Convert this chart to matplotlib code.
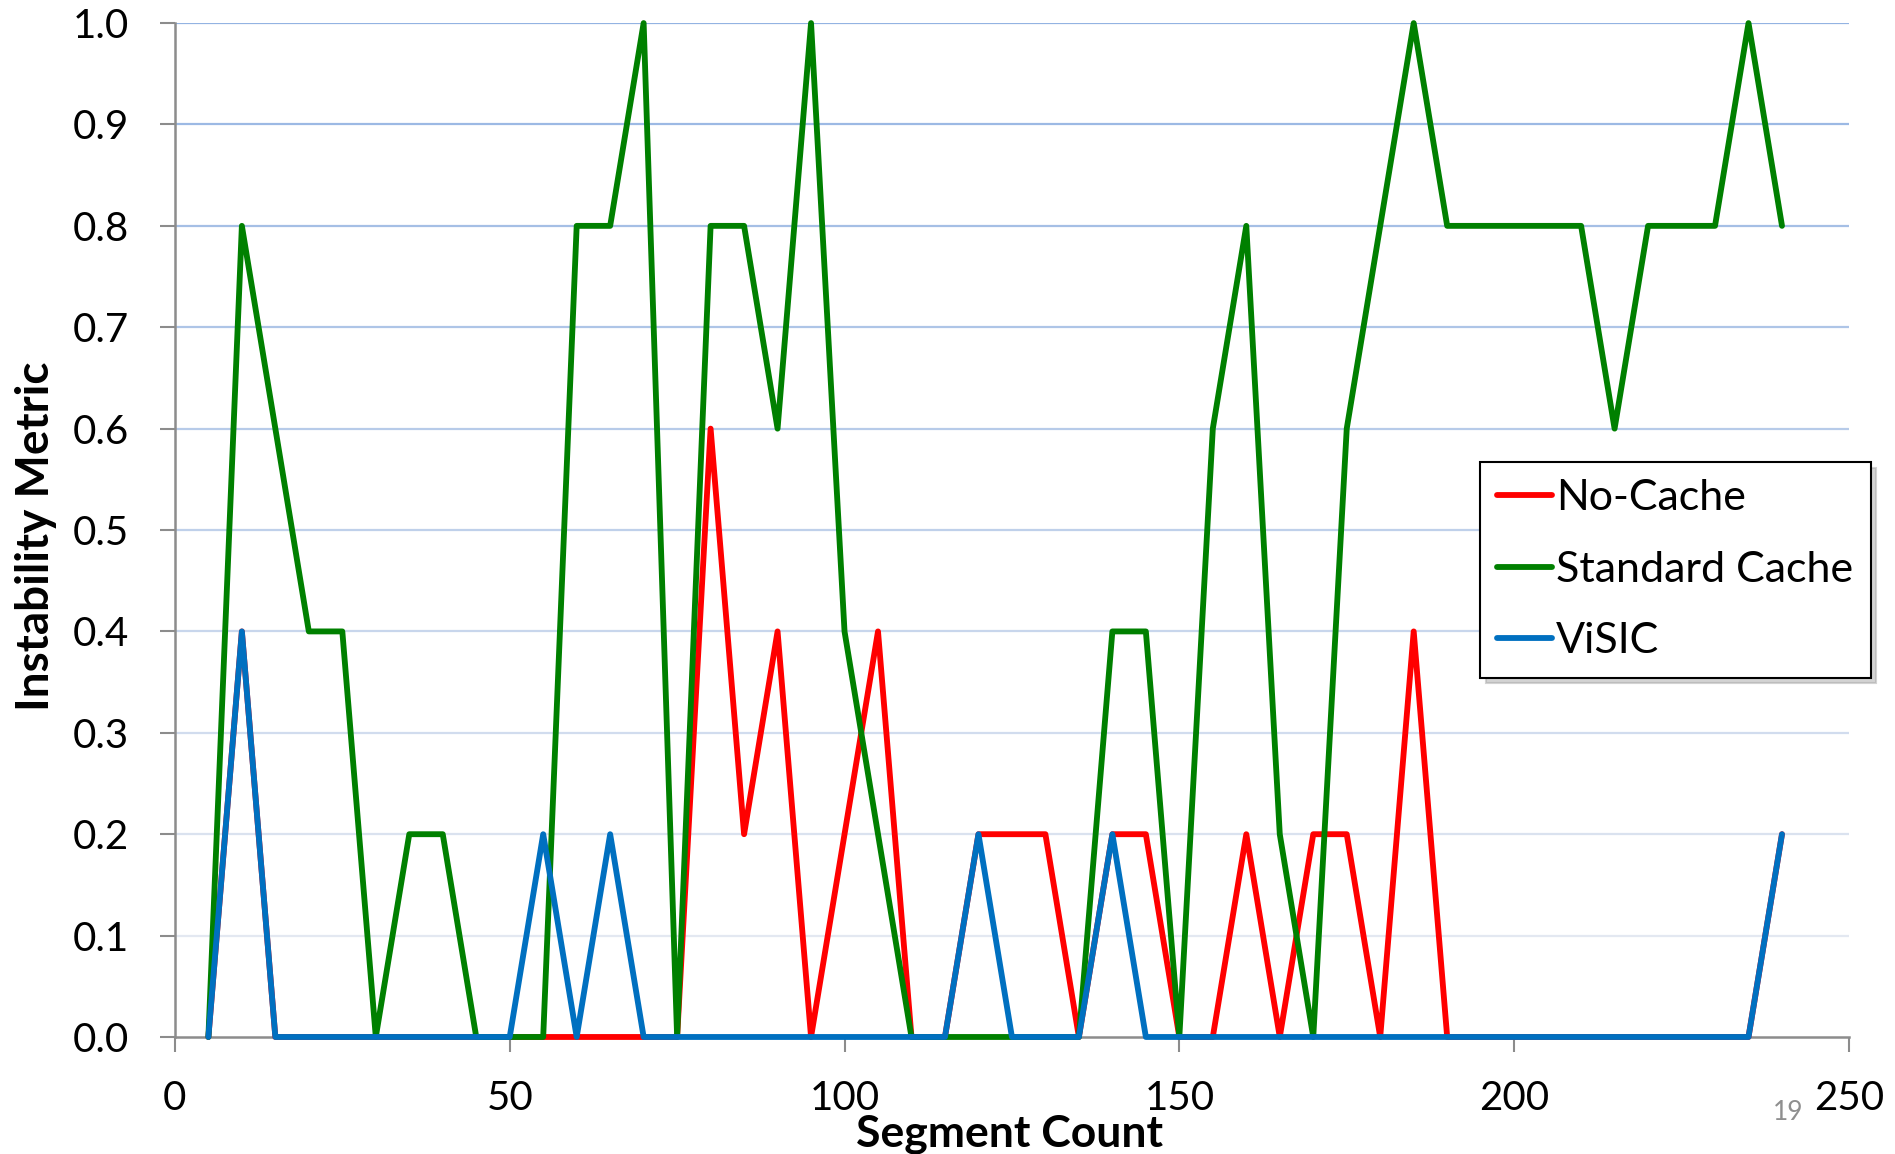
import numpy as np
import matplotlib
matplotlib.use('Agg')
import matplotlib.pyplot as plt
from matplotlib.colors import to_rgb

# segment counts, one sample every 5 segments
segments = list(range(5, 245, 5))

noCache = [0, 0.4, 0, 0, 0, 0, 0, 0, 0, 0,
           0, 0, 0, 0, 0, 0.6, 0.2, 0.4, 0, 0.2,
           0.4, 0, 0, 0.2, 0.2, 0.2, 0, 0.2, 0.2, 0,
           0, 0.2, 0, 0.2, 0.2, 0, 0.4, 0, 0, 0,
           0, 0, 0, 0, 0, 0, 0, 0.2]

standardCache = [0, 0.8, 0.6, 0.4, 0.4, 0, 0.2, 0.2, 0, 0,
                 0, 0.8, 0.8, 1.0, 0, 0.8, 0.8, 0.6, 1.0, 0.4,
                 0.2, 0, 0, 0, 0, 0, 0, 0.4, 0.4, 0,
                 0.6, 0.8, 0.2, 0, 0.6, 0.8, 1.0, 0.8, 0.8, 0.8,
                 0.8, 0.8, 0.6, 0.8, 0.8, 0.8, 1.0, 0.8]

visic = [0, 0.4, 0, 0, 0, 0, 0, 0, 0, 0,
         0.2, 0, 0.2, 0, 0, 0, 0, 0, 0, 0,
         0, 0, 0, 0.2, 0, 0, 0, 0.2, 0, 0,
         0, 0, 0, 0, 0, 0, 0, 0, 0, 0,
         0, 0, 0, 0, 0, 0, 0, 0.2]

seriesNames = ['No-Cache', 'Standard Cache', 'ViSIC']
seriesColors = ['#FF0000', '#008000', '#0070C0']

yTicks = [round(0.1 * i, 1) for i in range(11)]
xTicks = [0, 50, 100, 150, 200, 250]

plt.rcParams['font.family'] = ['Lato', 'DejaVu Sans']

hFig = plt.figure(figsize=(18.95, 11.54), dpi=100)
ax = hFig.add_axes([0.0923, 0.1014, 0.9757 - 0.0923, 0.980 - 0.1014])

# horizontal grid fades from blue at the top to pale at the bottom
topColor = np.array(to_rgb('#93B3E2'))
lowColor = np.array(to_rgb('#E3E8F1'))
for yVal in yTicks[1:]:
    frac = (yVal - 0.1) / 0.9
    c = lowColor + (topColor - lowColor) * frac
    ax.axhline(yVal, color=c, linewidth=1.6, zorder=1)

for yData, name, col in zip([noCache, standardCache, visic], seriesNames, seriesColors):
    ax.plot(segments, yData, color=col, linewidth=4.2, label=name,
            solid_joinstyle='round', solid_capstyle='round', clip_on=False, zorder=3)

ax.set_xlim(0, 250)
ax.set_ylim(0, 1.0)
ax.set_xticks(xTicks)
ax.set_yticks(yTicks)
ax.set_yticklabels(['%.1f' % v for v in yTicks])

for side in ['top', 'right']:
    ax.spines[side].set_visible(False)
for side in ['left', 'bottom']:
    ax.spines[side].set_color('#8C8C8C')
    ax.spines[side].set_linewidth(1.8)
    ax.spines[side].set_zorder(2)

ax.tick_params(axis='both', direction='out', length=11, width=1.5, color='#8C8C8C',
               labelsize=29, labelcolor='black')
ax.tick_params(axis='y', pad=22)
ax.tick_params(axis='x', pad=20)

hFig.text(36 / 1895, 1 - 536 / 1154, 'Instability Metric', rotation=90,
          ha='center', va='center', fontsize=33, fontweight='bold',
          family=['Liberation Sans Narrow', 'Lato', 'DejaVu Sans'])
hFig.text(1009 / 1895, 1 - 1114 / 1154, 'Segment Count', ha='center', va='top',
          fontsize=32, fontweight='bold')
hFig.text(1788 / 1895, 1 - 1120 / 1154, '19', ha='center', va='baseline',
          fontsize=19, color='#8F8F8F')

leg = ax.legend(loc='upper left', bbox_to_anchor=(1480 / 1895, 1 - 462 / 1154),
                bbox_transform=hFig.transFigure, fontsize=31, frameon=True,
                fancybox=False, edgecolor='black', handlelength=1.27,
                handletextpad=0.1, borderpad=0.4, labelspacing=0.78,
                borderaxespad=0,
                shadow={'color': '#A8A8A8', 'alpha': 0.5, 'ox': 4, 'oy': -4})
leg.get_frame().set_linewidth(1.5)
for ln in leg.get_lines():
    ln.set_linewidth(4.2)
leg.set_zorder(5)

hFig.savefig('out.png', dpi=100)
